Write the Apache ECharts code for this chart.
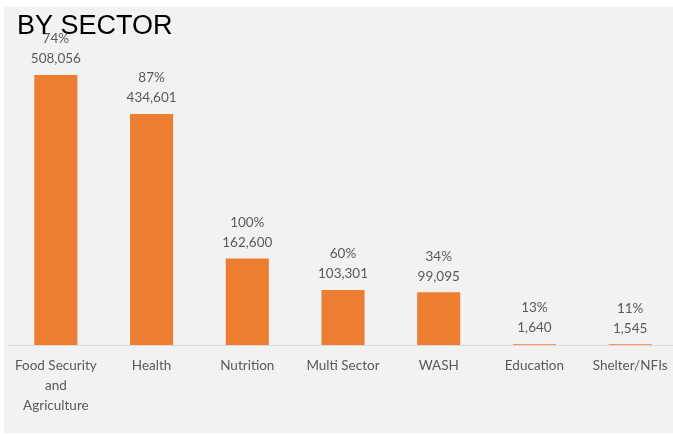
<!DOCTYPE html>
<html>
<head>
<meta charset="utf-8">
<script src="https://cdn.jsdelivr.net/npm/echarts@6/dist/echarts.min.js"></script>
<style>
html,body{margin:0;padding:0;background:#ffffff;overflow:hidden;width:673px;height:436px;}
#chart{width:690px;height:436px;}
</style>
</head>
<body>
<div id="chart"></div>
<script>
const categories = ['Food Security\nand\nAgriculture', 'Health', 'Nutrition', 'Multi Sector', 'WASH', 'Education', 'Shelter/NFIs'];
const values = [508056, 434601, 162600, 103301, 99095, 1640, 1545];
const percents = ['74%', '87%', '100%', '60%', '34%', '13%', '11%'];

const chart = echarts.init(document.getElementById('chart'), null, {renderer: 'canvas'});
chart.setOption({
  backgroundColor: 'transparent',
  animation: false,
  graphic: [{
    type: 'rect', z: -10, silent: true,
    shape: {x: 4, y: 7, width: 669, height: 426},
    style: {fill: '#f2f2f2'}
  }],
  title: {
    text: 'BY SECTOR', left: 12, top: 8,
    textStyle: {fontFamily: 'Liberation Sans', fontSize: 27, fontWeight: 'normal', color: '#000000'}
  },
  grid: {left: 8, right: 12, top: 26, bottom: 91, containLabel: false},
  xAxis: {
    type: 'category', data: categories,
    axisLine: {show: true, lineStyle: {color: '#d9d9d9', width: 1}},
    axisTick: {show: false},
    axisLabel: {
      interval: 0, margin: 11, color: '#595959',
      fontFamily: 'Lato', fontSize: 13.5, lineHeight: 20
    }
  },
  yAxis: {
    type: 'value', min: 0, max: 600000, show: false,
    splitLine: {show: false}
  },
  series: [{
    type: 'bar', data: values, barWidth: '45%',
    itemStyle: {color: '#ED7D31'},
    label: {
      show: true, position: 'top', distance: 6,
      color: '#595959', fontFamily: 'Lato', fontSize: 13.5, lineHeight: 20,
      formatter: p => percents[p.dataIndex] + '\n' + p.value.toLocaleString('en-US')
    }
  }]
});
</script>
</body>
</html>
